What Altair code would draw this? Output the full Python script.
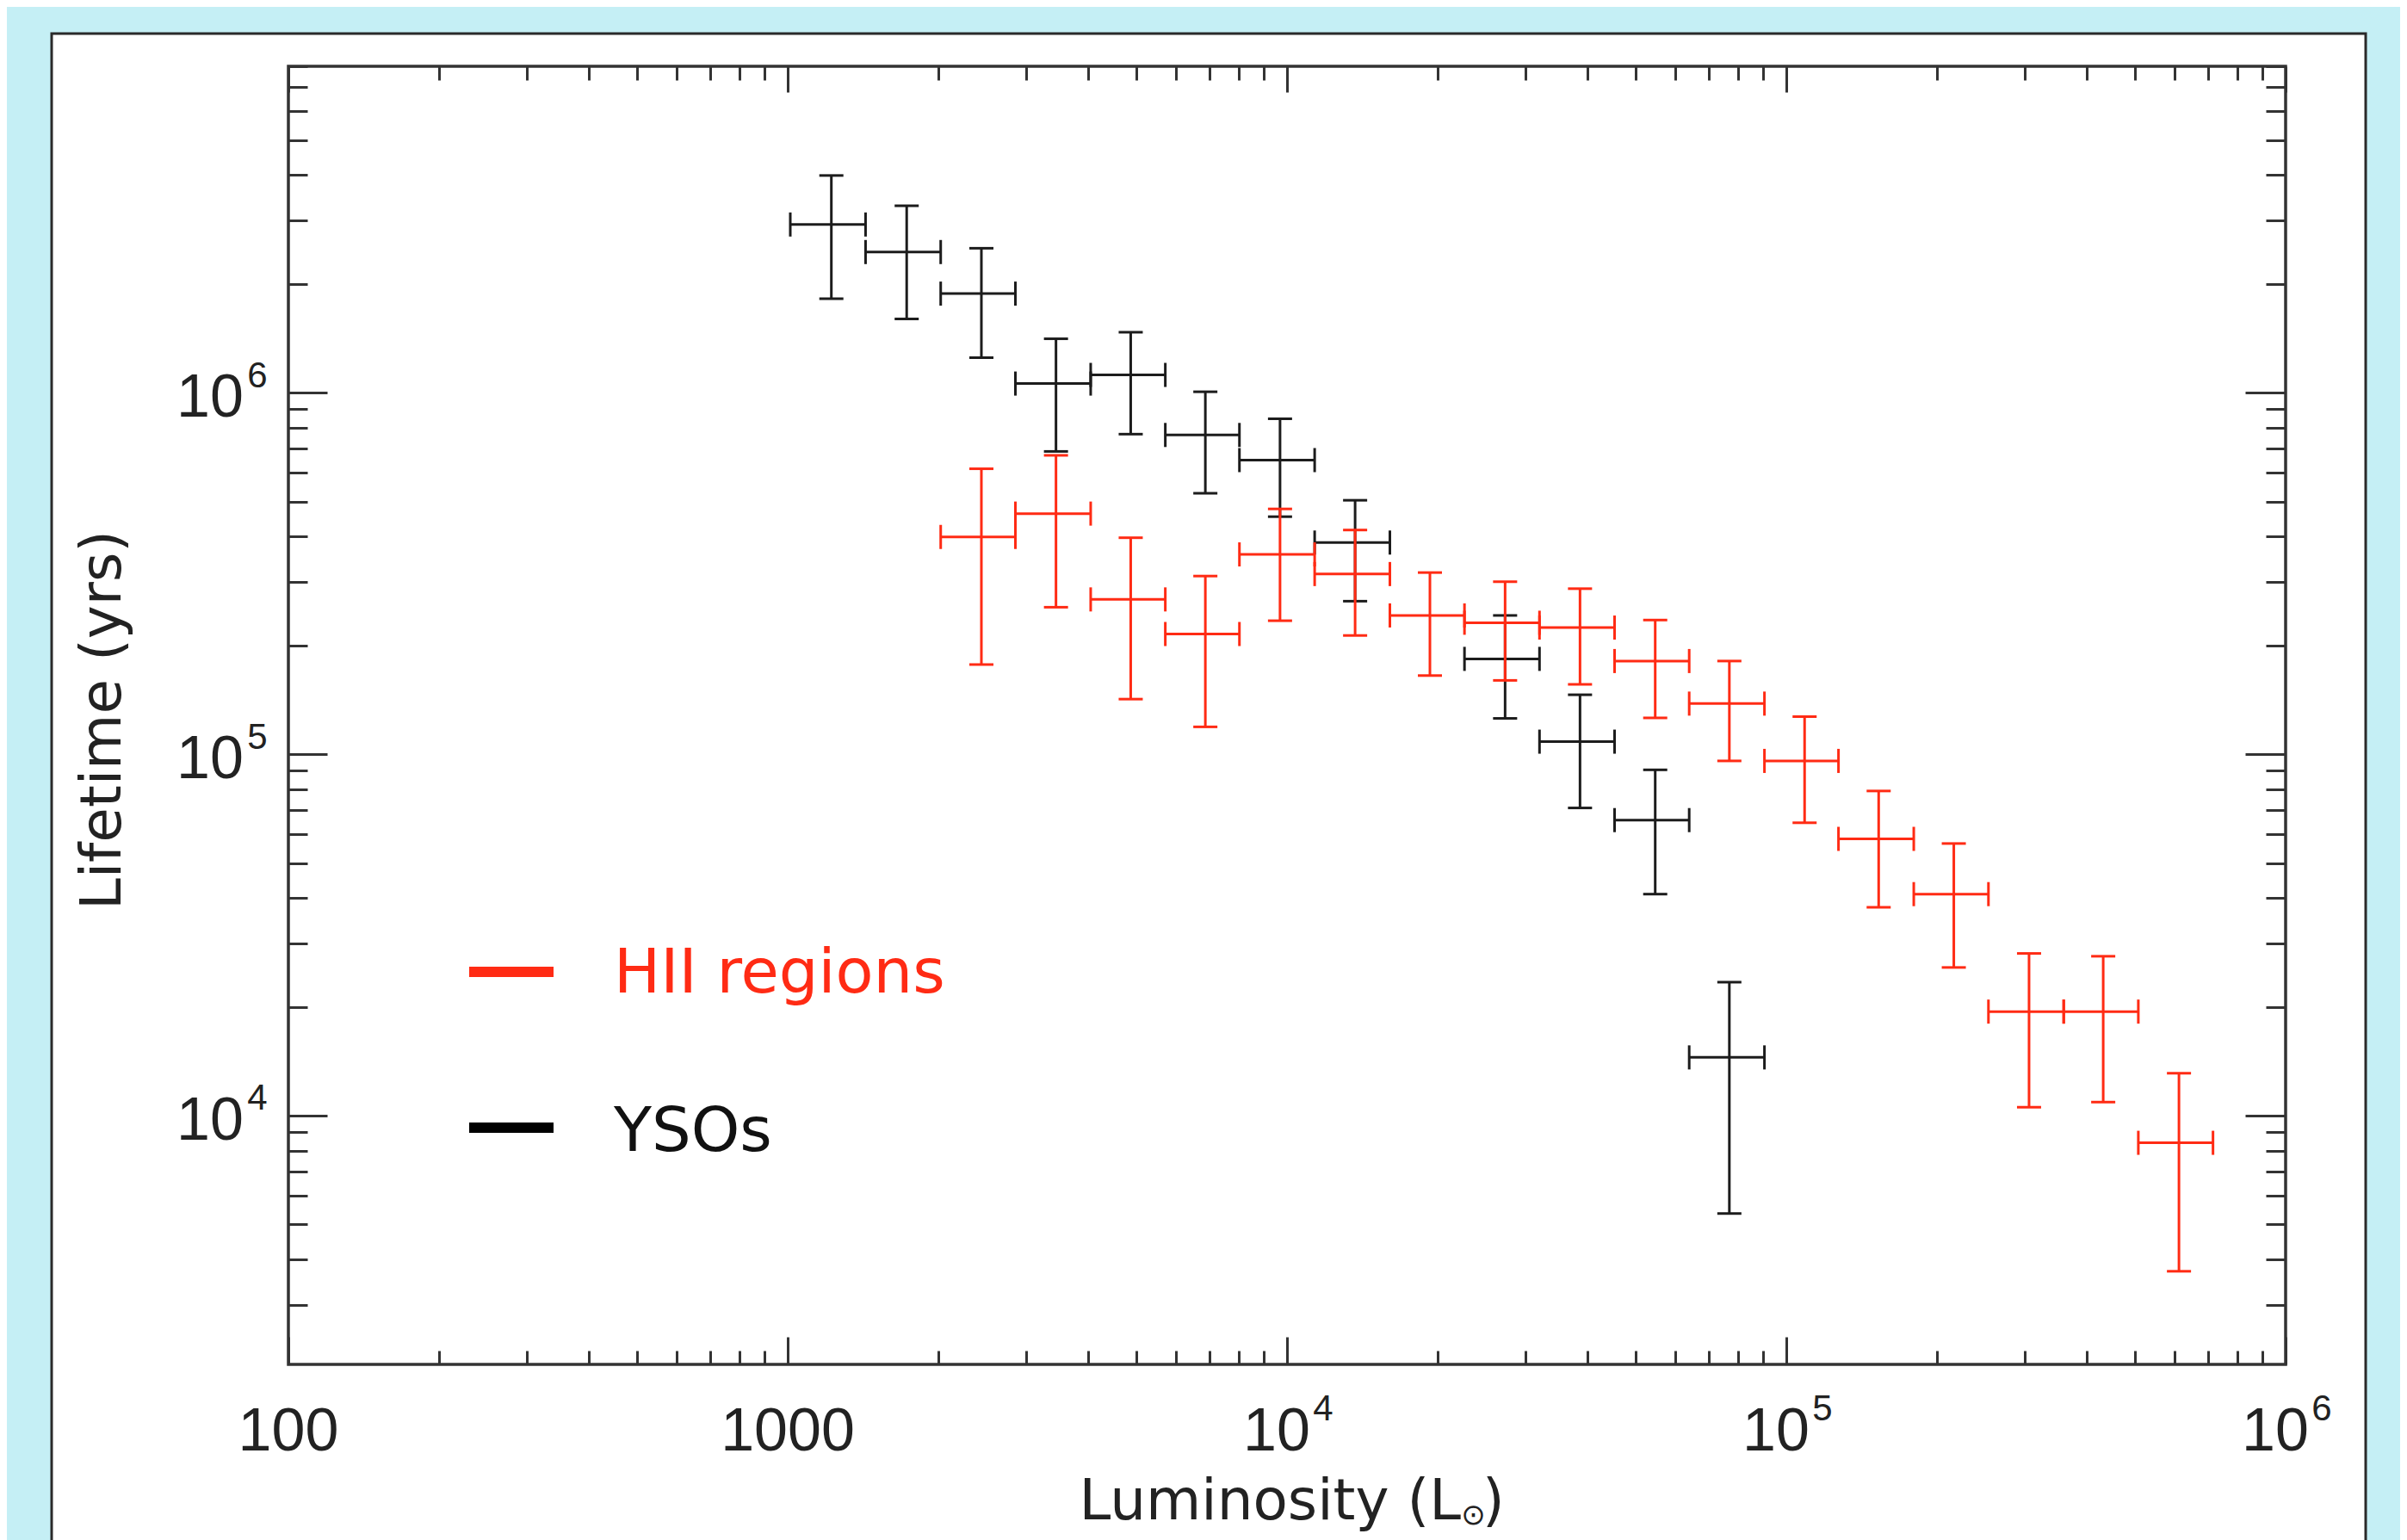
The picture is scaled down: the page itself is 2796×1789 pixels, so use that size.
import altair as alt
import pandas as pd

# ---------------- data ----------------
# YSOs (black)
yso_lum    = [1223, 1731, 2443, 3446, 4864, 6862, 9683, 13690, 27340, 38620, 54630, 76900]
yso_lum_lo = [1012, 1432, 2025, 2858, 4044, 5705, 8030, 11360, 22670, 32040, 45290, 63900]
yso_lum_hi = [1432, 2025, 2858, 4044, 5705, 8030, 11360, 16070, 32040, 45290, 63900, 90410]
yso_life    = [2.92e6, 2.45e6, 1.88e6, 1.06e6, 1.12e6, 7.64e5, 6.51e5, 3.85e5, 1.835e5, 1.083e5, 6.57e4, 1.449e4]
yso_life_hi = [3.99e6, 3.29e6, 2.51e6, 1.41e6, 1.47e6, 1.006e6, 8.47e5, 5.04e5, 2.42e5, 1.46e5, 9.05e4, 2.34e4]
yso_life_lo = [1.82e6, 1.60e6, 1.25e6, 6.88e5, 7.68e5, 5.27e5, 4.54e5, 2.65e5, 1.256e5, 7.1e4, 4.1e4, 5360]

# HII regions (red)
hii_lum    = [2443, 3446, 4864, 6862, 9683, 13690, 19330, 27340, 38620, 54630, 76900,
              108800, 153100, 216500, 306300, 431200, 611500]
hii_lum_lo = [2025, 2858, 4044, 5705, 8030, 11360, 16070, 22670, 32040, 45290, 63900,
              90410, 127200, 180000, 254000, 359400, 507000]
hii_lum_hi = [2858, 4044, 5705, 8030, 11360, 16070, 22670, 32040, 45290, 63900, 90410,
              127200, 180000, 254000, 359400, 507000, 715400]
hii_life    = [3.99e5, 4.63e5, 2.68e5, 2.15e5, 3.57e5, 3.15e5, 2.42e5, 2.31e5, 2.24e5, 1.81e5,
               1.38e5, 9.58e4, 5.83e4, 4.1e4, 1.94e4, 1.94e4, 8410]
hii_life_hi = [6.16e5, 6.71e5, 3.97e5, 3.11e5, 4.77e5, 4.17e5, 3.18e5, 3.0e5, 2.87e5, 2.35e5,
               1.81e5, 1.27e5, 7.91e4, 5.66e4, 2.81e4, 2.76e4, 1.31e4]
hii_life_lo = [1.77e5, 2.55e5, 1.42e5, 1.19e5, 2.34e5, 2.13e5, 1.65e5, 1.6e5, 1.56e5, 1.26e5,
               9.58e4, 6.46e4, 3.77e4, 2.57e4, 1.055e4, 1.09e4, 3710]

series_names = ["HII regions", "YSOs"]

# tick values / labels
x_major = [100, 1000, 1e4, 1e5, 1e6]
x_minor = [m * 10 ** e for e in range(2, 6) for m in range(2, 10)]
y_major = [1e4, 1e5, 1e6]
y_minor = [m * 10 ** e for e in range(3, 7) for m in range(2, 10)]
x_plain_ticks = [100, 1000]
x_plain_text = ["100", "1000"]
x_pow_ticks = [1e4, 1e5, 1e6]
x_pow_exps = ["4", "5", "6"]
y_pow_ticks = [1e4, 1e5, 1e6]
y_pow_exps = ["4", "5", "6"]

# ---------------- styles ----------------
W, H = 2320, 1508
BG = "#c5eff5"
RED = "#ff2b14"
BLACK = "#1c1c1c"
TICK = "#333333"
TXT = "#222222"
LW = 3
CAP = 28

xs = alt.Scale(type="log", domain=[100, 1e6], nice=False)
ys = alt.Scale(type="log", domain=[2050, 8e6], nice=False)


def ax(orient, offset, size, values):
    return alt.Axis(orient=orient, offset=offset, tickSize=size, values=values,
                    labels=False, domain=False, grid=False, ticks=True,
                    tickColor=TICK, tickWidth=3, zindex=1, title="")


def frame(lum, lo, hi, life, llo, lhi):
    return pd.DataFrame(dict(lum=lum, lum_lo=lo, lum_hi=hi, life=life,
                             life_lo=llo, life_hi=lhi))


yso = frame(yso_lum, yso_lum_lo, yso_lum_hi, yso_life, yso_life_lo, yso_life_hi)
hii = frame(hii_lum, hii_lum_lo, hii_lum_hi, hii_life, hii_life_lo, hii_life_hi)


def vcaps(df):
    return pd.DataFrame(dict(cx=list(df.lum) * 2, cy=list(df.life_lo) + list(df.life_hi)))


def hcaps(df):
    return pd.DataFrame(dict(cx=list(df.lum_lo) + list(df.lum_hi), cy=list(df.life) * 2))


one = pd.DataFrame({"a": [0]})

panel = alt.Chart(one).mark_rect(fill="white", stroke="#2a2a2a", strokeWidth=3).encode(
    x=alt.value(-275), x2=alt.value(2413), y=alt.value(-38), y2=alt.value(1760))

box = alt.Chart(one).mark_rect(fill="white", fillOpacity=0, stroke=TICK, strokeWidth=3.5).encode(
    x=alt.value(0), x2=alt.value(W), y=alt.value(0), y2=alt.value(H))


def series_layers(df, color, axes):
    (xa1, ya1), (xa2, ya2) = axes
    v = alt.Chart(df).mark_rule(color=color, strokeWidth=LW).encode(
        x=alt.X("lum:Q", scale=xs, axis=xa1),
        y=alt.Y("life_lo:Q", scale=ys, axis=ya1),
        y2="life_hi:Q")
    h = alt.Chart(df).mark_rule(color=color, strokeWidth=LW).encode(
        x=alt.X("lum_lo:Q", scale=xs, axis=xa2),
        x2="lum_hi:Q",
        y=alt.Y("life:Q", scale=ys, axis=ya2))
    vc = alt.Chart(vcaps(df)).mark_tick(orient="horizontal", size=CAP, thickness=LW,
                                        color=color, opacity=1).encode(
        x=alt.X("cx:Q", scale=xs, axis=None), y=alt.Y("cy:Q", scale=ys, axis=None))
    hc = alt.Chart(hcaps(df)).mark_tick(orient="vertical", size=CAP, thickness=LW,
                                        color=color, opacity=1).encode(
        x=alt.X("cx:Q", scale=xs, axis=None), y=alt.Y("cy:Q", scale=ys, axis=None))
    return [v, h, vc, hc]


yso_layers = series_layers(
    yso, BLACK,
    [(ax("bottom", -32, 32, x_major), ax("left", -45, 45, y_major)),
     (ax("bottom", -16, 16, x_minor), ax("left", -22, 22, y_minor))])
hii_layers = series_layers(
    hii, RED,
    [(ax("top", -30, 30, x_major), ax("right", -47, 47, y_major)),
     (ax("top", -16, 16, x_minor), ax("right", -23, 23, y_minor))])

LBL_FONT = "Liberation Sans"
LBL_SIZE = 70
SUP_SIZE = 42

xl_plain = alt.Chart(pd.DataFrame({"v": x_plain_ticks, "t": x_plain_text})).mark_text(
    font=LBL_FONT, fontSize=LBL_SIZE, color=TXT, align="center", baseline="alphabetic").encode(
    x=alt.X("v:Q", scale=xs, axis=None), y=alt.value(1608), text="t:N")
xl_pow = alt.Chart(pd.DataFrame({"v": x_pow_ticks, "e": x_pow_exps})).mark_text(
    font=LBL_FONT, fontSize=LBL_SIZE, color=TXT, align="center", baseline="alphabetic",
    dx=-12, text="10").encode(
    x=alt.X("v:Q", scale=xs, axis=None), y=alt.value(1608))
xl_sup = alt.Chart(pd.DataFrame({"v": x_pow_ticks, "e": x_pow_exps})).mark_text(
    font=LBL_FONT, fontSize=SUP_SIZE, color=TXT, align="center", baseline="alphabetic",
    dx=42).encode(
    x=alt.X("v:Q", scale=xs, axis=None), y=alt.value(1573), text="e:N")

yl_pow = alt.Chart(pd.DataFrame({"v": y_pow_ticks, "e": y_pow_exps})).mark_text(
    font=LBL_FONT, fontSize=LBL_SIZE, color=TXT, align="center", baseline="alphabetic",
    dy=27.5, text="10").encode(
    y=alt.Y("v:Q", scale=ys, axis=None), x=alt.value(-91))
yl_sup = alt.Chart(pd.DataFrame({"v": y_pow_ticks, "e": y_pow_exps})).mark_text(
    font=LBL_FONT, fontSize=SUP_SIZE, color=TXT, align="center", baseline="alphabetic",
    dy=-6.6).encode(
    y=alt.Y("v:Q", scale=ys, axis=None), x=alt.value(-36), text="e:N")

TFONT = "DejaVu Sans"
TSIZE = 66
TY = 1688
xt1 = alt.Chart(one).mark_text(font=TFONT, fontSize=TSIZE, color=TXT, align="right",
                               baseline="alphabetic", text="Luminosity (L").encode(
    x=alt.value(1362), y=alt.value(TY))
xt2 = alt.Chart(one).mark_text(font=TFONT, fontSize=34, color=TXT, align="center",
                               baseline="middle", text="\u2299").encode(
    x=alt.value(1376.5), y=alt.value(TY - 4))
xt3 = alt.Chart(one).mark_text(font=TFONT, fontSize=TSIZE, color=TXT, align="left",
                               baseline="alphabetic", text=")").encode(
    x=alt.value(1387), y=alt.value(TY))
yt = alt.Chart(one).mark_text(font=TFONT, fontSize=TSIZE, color=TXT, align="center",
                              baseline="alphabetic", angle=270, text="Lifetime (yrs)").encode(
    x=alt.value(-195), y=alt.value(759.5))

leg_df_hii = pd.DataFrame({"label": [series_names[0]]})
leg_df_yso = pd.DataFrame({"label": [series_names[1]]})
leg_line_hii = alt.Chart(leg_df_hii).mark_rule(color=RED, strokeWidth=12).encode(
    x=alt.value(210), x2=alt.value(308), y=alt.value(1052))
leg_line_yso = alt.Chart(leg_df_yso).mark_rule(color="#000000", strokeWidth=12).encode(
    x=alt.value(210), x2=alt.value(308), y=alt.value(1233))
leg_txt_hii = alt.Chart(leg_df_hii).mark_text(font=TFONT, fontSize=72, color=RED, align="left",
                                              baseline="alphabetic").encode(
    x=alt.value(378), y=alt.value(1076), text="label:N")
leg_txt_yso = alt.Chart(leg_df_yso).mark_text(font=TFONT, fontSize=72, color="#111111",
                                              align="left", baseline="alphabetic").encode(
    x=alt.value(378), y=alt.value(1260), text="label:N")

chart = alt.layer(
    panel, box, *yso_layers, *hii_layers,
    xl_plain, xl_pow, xl_sup, yl_pow, yl_sup, xt1, xt2, xt3, yt,
    leg_line_hii, leg_line_yso, leg_txt_hii, leg_txt_yso,
).resolve_axis(x="independent", y="independent").properties(
    width=W, height=H,
    padding={"left": 327, "top": 69, "right": 133, "bottom": 204},
    autosize=alt.AutoSizeParams(type="none"),
    background=BG,
).configure_view(strokeWidth=0)

chart.save("out.html", embed_options={"renderer": "svg", "actions": False})
